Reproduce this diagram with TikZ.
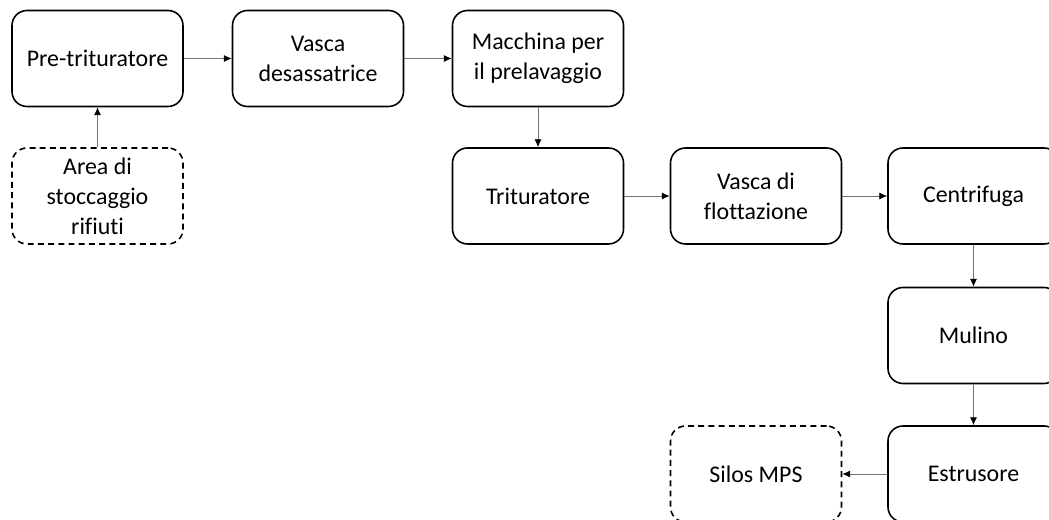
\documentclass[tikz,border=0pt]{standalone}
\usepackage{fontspec}
\setmainfont[Ligatures=NoCommon]{Carlito}
\usetikzlibrary{arrows.meta}

\begin{document}
\begin{tikzpicture}

	\tikzset{stadio/.style={draw,line width=0.9pt,rounded corners=0.3cm,minimum width=3.42cm,minimum height=1.92cm,align=center,font=\fontsize{13.6}{17}\selectfont},
		deposito/.style={stadio,dashed,dash pattern=on 3.4pt off 2.4pt},
		flusso/.style={draw=black!55,line width=0.5pt,-{Latex[length=4.5pt,width=4pt,color=black]}}}

	\clip (0,0) rectangle (20.98,10.4);

	% prima riga
	\node[stadio] (pre) at (1.95,9.23) {Pre-trituratore};
	\node[stadio] (vasca) at (6.36,9.23) {Vasca\\desassatrice};
	\node[stadio] (macchina) at (10.76,9.23) {Macchina per\\il prelavaggio};
	\node[deposito] (area) at (1.95,6.48) {Area di\\stoccaggio\\rifiuti};

	% seconda riga
	\node[stadio] (trit) at (10.76,6.48) {Trituratore};
	\node[stadio] (flott) at (15.12,6.48) {Vasca di\\flottazione};
	\node[stadio] (centr) at (19.47,6.48) {Centrifuga};
	\node[stadio] (mulino) at (19.47,3.69) {Mulino};
	\node[stadio] (estr) at (19.47,0.92) {Estrusore};
	\node[deposito] (silos) at (15.12,0.92) {Silos MPS};

	\draw[flusso] (area) -- (pre);
	\draw[flusso] (pre) -- (vasca);
	\draw[flusso] (vasca) -- (macchina);
	\draw[flusso] (macchina) -- (trit);
	\draw[flusso] (trit) -- (flott);
	\draw[flusso] (flott) -- (centr);
	\draw[flusso] (centr) -- (mulino);
	\draw[flusso] (mulino) -- (estr);
	\draw[flusso] (estr) -- (silos);

\end{tikzpicture}
\end{document}
